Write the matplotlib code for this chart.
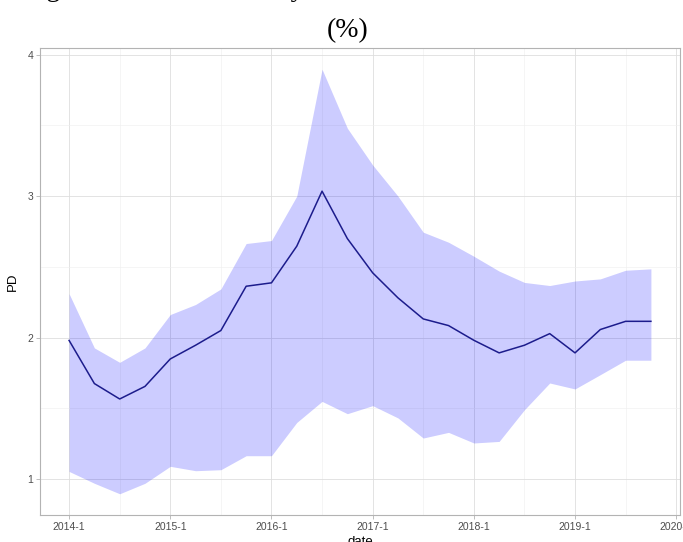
import numpy as np
import matplotlib.pyplot as plt

# quarterly dates, 2014 Q1 .. 2019 Q4
anios = [2014, 2015, 2016, 2017, 2018, 2019]
trimestres = [1, 2, 3, 4]

pd_media = [1.98, 1.675, 1.566, 1.655, 1.849, 1.946, 2.05, 2.363,
            2.387, 2.646, 3.035, 2.70, 2.458, 2.281, 2.132, 2.085,
            1.981, 1.892, 1.946, 2.028, 1.892, 2.057, 2.115, 2.115]
pd_sup = [2.31, 1.927, 1.825, 1.927, 2.163, 2.234, 2.344, 2.665,
          2.686, 3.0, 3.897, 3.48, 3.22, 3.0, 2.745, 2.674,
          2.575, 2.47, 2.39, 2.368, 2.40, 2.415, 2.476, 2.486]
pd_inf = [1.054, 0.97, 0.896, 0.97, 1.09, 1.059, 1.066, 1.165,
          1.165, 1.40, 1.549, 1.462, 1.519, 1.432, 1.29, 1.33,
          1.255, 1.266, 1.49, 1.679, 1.637, 1.738, 1.84, 1.84]

ticks_x = [2014, 2015, 2016, 2017, 2018, 2019, 2020]
etiquetas_x = [f"{a}-1" for a in ticks_x]
ticks_y = [1, 2, 3, 4]

fechas = np.array([a + (q - 1) / 4 for a in anios for q in trimestres])

plt.rcParams['font.family'] = ['Liberation Sans', 'DejaVu Sans']

fig = plt.figure(figsize=(6.83, 5.42), dpi=100)
W, H = 683, 542
ax = fig.add_axes([40 / W, (H - 515) / H, 640 / W, 467 / H])

ax.fill_between(fechas, pd_inf, pd_sup, color='blue', alpha=0.2, linewidth=0)
ax.plot(fechas, pd_media, color='#1c1c8c', linewidth=1.1)

# ggplot-like expansion
rx = fechas.max() - fechas.min()
ax.set_xlim(fechas.min() - 0.05 * rx, fechas.max() + 0.05 * rx)
ry = max(pd_sup) - min(pd_inf)
ax.set_ylim(min(pd_inf) - 0.05 * ry, max(pd_sup) + 0.05 * ry)

ax.set_xticks(ticks_x)
ax.set_xticklabels(etiquetas_x)
ax.set_yticks(ticks_y)
ax.set_xticks([t + 0.5 for t in ticks_x[:-1]], minor=True)
ax.set_yticks([1.5, 2.5, 3.5], minor=True)

ax.grid(which='major', color='#DEDEDE', linewidth=0.6)
ax.grid(which='minor', color='#EEEEEE', linewidth=0.4)
ax.set_axisbelow(True)
for s in ax.spines.values():
    s.set_color('#B3B3B3')
    s.set_linewidth(0.8)
ax.tick_params(which='major', color='#B3B3B3', length=3, width=0.6,
               labelsize=7.5, labelcolor='#4D4D4D', pad=2)
ax.tick_params(which='minor', length=0)

ax.set_ylabel('PD', fontsize=9.5, labelpad=6)
ax.set_xlabel('date', fontsize=9.5, labelpad=3)

# title, the first line is cut by the top edge
fig.text(23 / W, 1 + 4 / H, 'Figure 2: The Probability of Default Estimates and Bounds',
         family='Liberation Serif', fontsize=20, va='baseline', ha='left')
fig.text(348 / W, 1 - 31 / H, '(%)', family='Liberation Serif', fontsize=20,
         va='center', ha='center')

fig.savefig('out.png', dpi=100)
